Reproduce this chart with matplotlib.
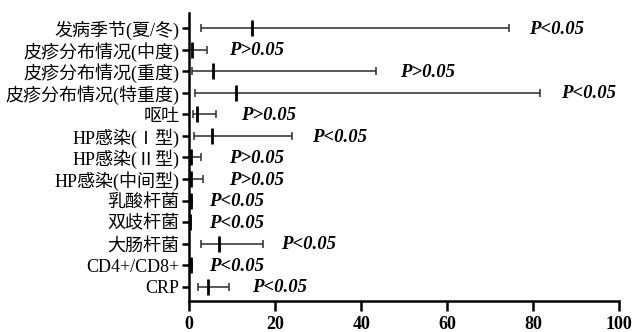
import matplotlib
matplotlib.use("Agg")
import matplotlib.pyplot as plt
import numpy as np

labels = ["发病季节(夏/冬)", "皮疹分布情况(中度)", "皮疹分布情况(重度)", "皮疹分布情况(特重度)",
          "呕吐", "HP感染(Ⅰ型)", "HP感染(Ⅱ型)", "HP感染(中间型)", "乳酸杆菌", "双歧杆菌",
          "大肠杆菌", "CD4+/CD8+", "CRP"]
est = [14.7, 0.7, 5.6, 10.8, 1.7, 5.3, 0.3, 0.3, 0.3, 0.2, 6.9, 0.3, 4.3]
low = [2.7, 0.05, 0.7, 1.3, 0.8, 1.2, 0.05, 0.05, 0.1, 0.05, 2.8, 0.1, 2.0]
high = [74.4, 4.2, 43.4, 81.6, 6.2, 23.9, 2.8, 3.3, 0.6, 0.4, 17.1, 0.6, 9.2]
ptext = ["P<0.05", "P>0.05", "P>0.05", "P<0.05", "P>0.05", "P<0.05", "P>0.05", "P>0.05",
         "P<0.05", "P<0.05", "P<0.05", "P<0.05", "P<0.05"]
ptext_x = [79.0, 9.2, 49.0, 86.4, 12.0, 28.5, 9.2, 9.2, 4.5, 4.5, 21.3, 4.5, 14.5]
xticks = [0, 20, 40, 60, 80, 100]

fig = plt.figure(figsize=(6.33, 3.32), dpi=100)
ax = fig.add_axes([0.299, 0.0943, 0.679, 0.8667])

n = len(labels)
ys = np.arange(n)[::-1]
col = "#2b2b2b"
for y, e, lo, hi in zip(ys, est, low, high):
    ax.errorbar([e], [y], xerr=[[e - lo], [hi - e]], fmt="none", ecolor=col,
                elinewidth=1.1, capsize=3, capthick=1.1)
    ax.plot([e], [y], marker="|", markersize=12, markeredgewidth=2, color="black")

for y, t, tx in zip(ys, ptext, ptext_x):
    ax.text(tx, y - 0.05, t, fontfamily="Liberation Serif", fontweight="bold",
            fontstyle="italic", fontsize=13.5, va="center", ha="left", color="black")

ax.set_xlim(0, 100)
ax.set_ylim(-0.65, n - 1 + 0.71)
ax.set_xticks(xticks)
ax.set_xticklabels([str(v) for v in xticks], fontfamily="Liberation Serif",
                   fontweight="bold", fontsize=13)
ax.set_yticks(ys)
ax.set_yticklabels(labels, fontfamily=["Liberation Serif", "Noto Sans CJK SC"], fontsize=13)
for s in ["top", "right"]:
    ax.spines[s].set_visible(False)
for s in ["left", "bottom"]:
    ax.spines[s].set_linewidth(1.8)
ax.tick_params(axis="x", direction="out", length=7, width=1.8, pad=4)
ax.tick_params(axis="y", direction="out", length=5, width=1.8, pad=2)

fig.savefig("out.png", dpi=100)
